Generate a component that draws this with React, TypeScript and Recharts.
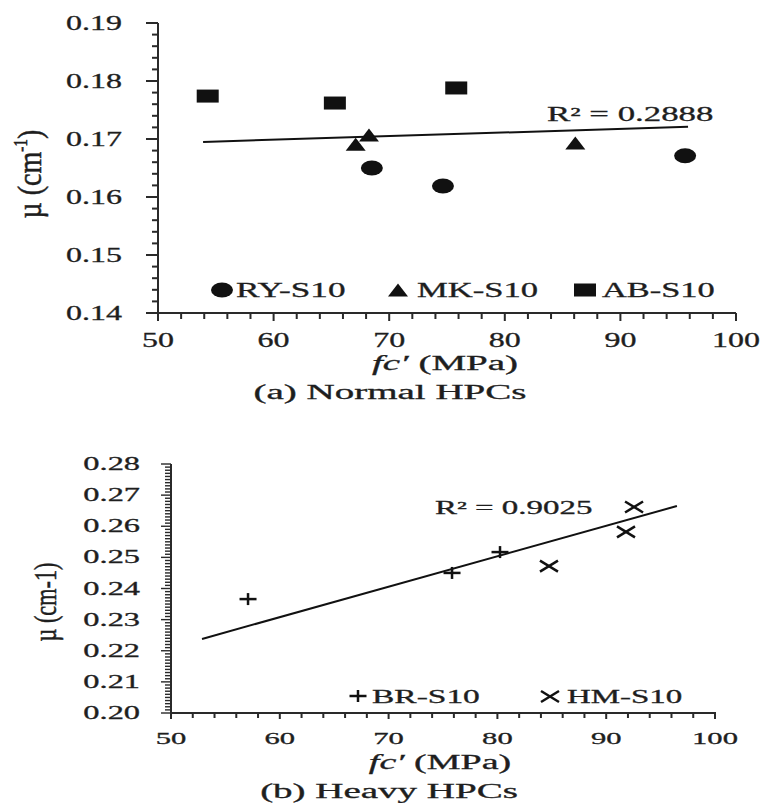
import React from 'react';
import { ScatterChart, Scatter, XAxis, YAxis } from 'recharts';

const FONT = '"Liberation Serif", "Times New Roman", serif';
const INK = '#111';
const TXT = '#1e1e1e';
const AX = '#2a2a2a';
const TICK = '#2a2a2a';

// ---------- (a) Normal HPCs ----------
const ryS10 = [
  { x: 68.5, y: 0.165 },
  { x: 74.65, y: 0.1619 },
  { x: 95.6, y: 0.1671 },
];
const mkS10 = [
  { x: 67.1, y: 0.1691 },
  { x: 68.25, y: 0.1707 },
  { x: 86.1, y: 0.1693 },
];
const abS10 = [
  { x: 54.3, y: 0.1774 },
  { x: 65.3, y: 0.1762 },
  { x: 75.8, y: 0.1788 },
];
const trendA = [
  { x: 53.9, y: 0.1695 },
  { x: 95.85, y: 0.1721 },
];
const yMajorA = [0.14, 0.15, 0.16, 0.17, 0.18, 0.19];
const xMajor = [50, 60, 70, 80, 90, 100];
const r2A = 'R\u00B2 = 0.2888';

// ---------- (b) Heavy HPCs ----------
const brS10 = [
  { x: 57.08, y: 0.2366 },
  { x: 75.83, y: 0.245 },
  { x: 80.24, y: 0.2517 },
];
const hmS10 = [
  { x: 84.74, y: 0.2472 },
  { x: 91.82, y: 0.2582 },
  { x: 92.56, y: 0.2662 },
];
const trendB = [
  { x: 52.85, y: 0.2238 },
  { x: 96.5, y: 0.2665 },
];
const yMajorB = [0.2, 0.21, 0.22, 0.23, 0.24, 0.25, 0.26, 0.27, 0.28];
const r2B = 'R\u00B2 = 0.9025';

const subdivide = (majors: number[], n: number) => {
  const out: number[] = [];
  for (let k = 0; k < majors.length; k++) {
    out.push(majors[k]);
    if (k < majors.length - 1) {
      const step = (majors[k + 1] - majors[k]) / n;
      for (let i = 1; i < n; i++) out.push(Number((majors[k] + i * step).toFixed(6)));
    }
  }
  return out;
};

const isMajorOf = (majors: number[], v: number) => majors.some((m) => Math.abs(m - v) < 1e-9);

const makeYTick =
  (majors: number[], majorLen: number, minorLen: number, gap: number, size: number, sx: number, th: number) =>
  (props: any) => {
    const { x, y, payload } = props;
    const v = Number(payload.value);
    const major = isMajorOf(majors, v);
    const len = major ? majorLen : minorLen;
    return (
      <g>
        <rect x={Number(x) - len} y={Number(y) - th / 2} width={len} height={th} fill={TICK} />
        {major && (
          <text
            transform={`translate(${Number(x) - gap} ${Number(y) + size * 0.34}) scale(${sx} 1)`}
            textAnchor="end"
            fontFamily={FONT}
            fontSize={size}
            fill={TXT}
            stroke={TXT}
            strokeWidth={0.3}
          >
            {v.toFixed(2)}
          </text>
        )}
      </g>
    );
  };

const makeXTick =
  (majors: number[], majorLen: number, minorLen: number, up: number, base: number, size: number, sx: number, th: number) =>
  (props: any) => {
    const { x, y, payload } = props;
    const v = Number(payload.value);
    const major = isMajorOf(majors, v);
    const len = major ? majorLen : minorLen;
    return (
      <g>
        <rect x={Number(x) - th / 2} y={Number(y) - up} width={th} height={len + up} fill={TICK} />
        {major && (
          <text
            transform={`translate(${Number(x)} ${Number(y) + base}) scale(${sx} 1)`}
            textAnchor="middle"
            fontFamily={FONT}
            fontSize={size}
            fill={TXT}
            stroke={TXT}
            strokeWidth={0.3}
          >
            {String(v)}
          </text>
        )}
      </g>
    );
  };

const Ellipse = (p: any) => <ellipse cx={p.cx} cy={p.cy} rx={11} ry={7.5} fill={INK} />;
const Tri = (p: any) => (
  <polygon
    points={`${p.cx},${p.cy - 6.5} ${p.cx - 10},${p.cy + 6.5} ${p.cx + 10},${p.cy + 6.5}`}
    fill={INK}
  />
);
const Sq = (p: any) => <rect x={p.cx - 11} y={p.cy - 6.5} width={22} height={13} fill={INK} />;
const Plus = (p: any) => (
  <g stroke={INK} strokeWidth={2.5}>
    <line x1={p.cx - 8.5} x2={p.cx + 8.5} y1={p.cy} y2={p.cy} />
    <line x1={p.cx} x2={p.cx} y1={p.cy - 6} y2={p.cy + 6} />
  </g>
);
const Cross = (p: any) => (
  <g stroke={INK} strokeWidth={2.5}>
    <line x1={p.cx - 9} x2={p.cx + 9} y1={p.cy - 5.5} y2={p.cy + 5.5} />
    <line x1={p.cx - 9} x2={p.cx + 9} y1={p.cy + 5.5} y2={p.cy - 5.5} />
  </g>
);
const NoShape = () => <g />;

const SText = ({ x, y, sx, size, anchor = 'start', children }: any) => (
  <text
    transform={`translate(${x} ${y}) scale(${sx} 1)`}
    textAnchor={anchor}
    fontFamily={FONT}
    fontSize={size}
    fill={TXT}
    stroke={TXT}
    strokeWidth={0.3}
  >
    {children}
  </text>
);

export default function App() {
  return (
    <div style={{ position: 'absolute', left: 0, top: 0, width: 765, height: 803, background: '#fff' }}>
      <div style={{ position: 'absolute', left: 0, top: 0 }}>
        <ScatterChart width={765} height={400} margin={{ top: 23, right: 29, left: 0, bottom: 0 }}>
          <XAxis
            type="number"
            dataKey="x"
            domain={[50, 100]}
            ticks={subdivide(xMajor, 5)}
            interval={0}
            height={87}
            tickSize={0}
            tickMargin={0}
            tickLine={false}
            axisLine={{ stroke: AX, strokeWidth: 2 }}
            tick={makeXTick(xMajor, 8, 6, 0, 34, 20, 1.6, 2)}
          />
          <YAxis
            type="number"
            dataKey="y"
            domain={[0.14, 0.19]}
            ticks={subdivide(yMajorA, 5)}
            interval={0}
            width={158}
            tickSize={0}
            tickMargin={0}
            tickLine={false}
            axisLine={{ stroke: AX, strokeWidth: 2 }}
            tick={makeYTick(yMajorA, 12, 6, 36, 20, 1.6, 2)}
          />
          <Scatter name="trend" data={trendA} line={{ stroke: INK, strokeWidth: 2 }} shape={NoShape} isAnimationActive={false} />
          <Scatter name="RY-S10" data={ryS10} shape={Ellipse} isAnimationActive={false} />
          <Scatter name="MK-S10" data={mkS10} shape={Tri} isAnimationActive={false} />
          <Scatter name="AB-S10" data={abS10} shape={Sq} isAnimationActive={false} />
        </ScatterChart>
      </div>
      <div style={{ position: 'absolute', left: 0, top: 400 }}>
        <ScatterChart width={765} height={403} margin={{ top: 64, right: 50, left: 0, bottom: 0 }}>
          <XAxis
            type="number"
            dataKey="x"
            domain={[50, 100]}
            ticks={subdivide(xMajor, 5)}
            interval={0}
            height={90}
            tickSize={0}
            tickMargin={0}
            tickLine={false}
            axisLine={{ stroke: AX, strokeWidth: 2 }}
            tick={makeXTick(xMajor, 6, 5, 1, 31, 17, 1.8, 2)}
          />
          <YAxis
            type="number"
            dataKey="y"
            domain={[0.2, 0.28]}
            ticks={subdivide(yMajorB, 10)}
            interval={0}
            width={171}
            tickSize={0}
            tickMargin={0}
            tickLine={false}
            axisLine={{ stroke: AX, strokeWidth: 2 }}
            tick={makeYTick(yMajorB, 10, 6, 31, 18, 1.8, 1.4)}
          />
          <Scatter name="trend" data={trendB} line={{ stroke: INK, strokeWidth: 2 }} shape={NoShape} isAnimationActive={false} />
          <Scatter name="BR-S10" data={brS10} shape={Plus} isAnimationActive={false} />
          <Scatter name="HM-S10" data={hmS10} shape={Cross} isAnimationActive={false} />
        </ScatterChart>
      </div>
      <svg
        width={765}
        height={803}
        style={{ position: 'absolute', left: 0, top: 0, pointerEvents: 'none' }}
      >
        {/* (a) annotations */}
        <SText x={547} y={121} sx={1.74} size={20}>{r2A}</SText>
        <ellipse cx={222} cy={290} rx={11} ry={7.5} fill={INK} />
        <SText x={236} y={297} sx={1.76} size={20}>RY-S10</SText>
        <polygon points="398,283.5 388,296.5 408,296.5" fill={INK} />
        <SText x={417} y={297} sx={1.73} size={20}>MK-S10</SText>
        <rect x={574} y={283.5} width={22} height={13} fill={INK} />
        <SText x={602} y={297} sx={1.72} size={20}>AB-S10</SText>
        <text
          transform="translate(41 174) rotate(-90) scale(1.4 1.7)"
          textAnchor="middle"
          fontFamily={FONT}
          fontSize={20}
          fill={TXT}
          stroke={TXT}
          strokeWidth={0.3}
        >
          µ (cm<tspan fontSize={11} dy={-8}>-1</tspan><tspan dy={8}>)</tspan>
        </text>
        <SText x={445} y={370} sx={1.95} size={20} anchor="middle">
          <tspan fontStyle="italic">fc′</tspan> (MPa)
        </SText>
        <SText x={390} y={399} sx={1.95} size={20} anchor="middle">(a) Normal HPCs</SText>

        {/* (b) annotations */}
        <SText x={435} y={514} sx={1.83} size={18}>{r2B}</SText>
        <g stroke={INK} strokeWidth={2.5}>
          <line x1={349.5} x2={366.5} y1={696} y2={696} />
          <line x1={358} x2={358} y1={690} y2={702} />
          <line x1={541} x2={559} y1={691} y2={702} />
          <line x1={541} x2={559} y1={702} y2={691} />
        </g>
        <SText x={372} y={703} sx={1.86} size={18}>BR-S10</SText>
        <SText x={567} y={703} sx={1.83} size={18}>HM-S10</SText>
        <text
          transform="translate(56 602) rotate(-90) scale(1.17 1.7)"
          textAnchor="middle"
          fontFamily={FONT}
          fontSize={19}
          fill={TXT}
          stroke={TXT}
          strokeWidth={0.3}
        >
          µ (cm-1)
        </text>
        <SText x={440} y={769} sx={1.9} size={20} anchor="middle">
          <tspan fontStyle="italic">fc′</tspan> (MPa)
        </SText>
        <SText x={389} y={798} sx={1.95} size={20} anchor="middle">(b) Heavy HPCs</SText>
      </svg>
    </div>
  );
}
